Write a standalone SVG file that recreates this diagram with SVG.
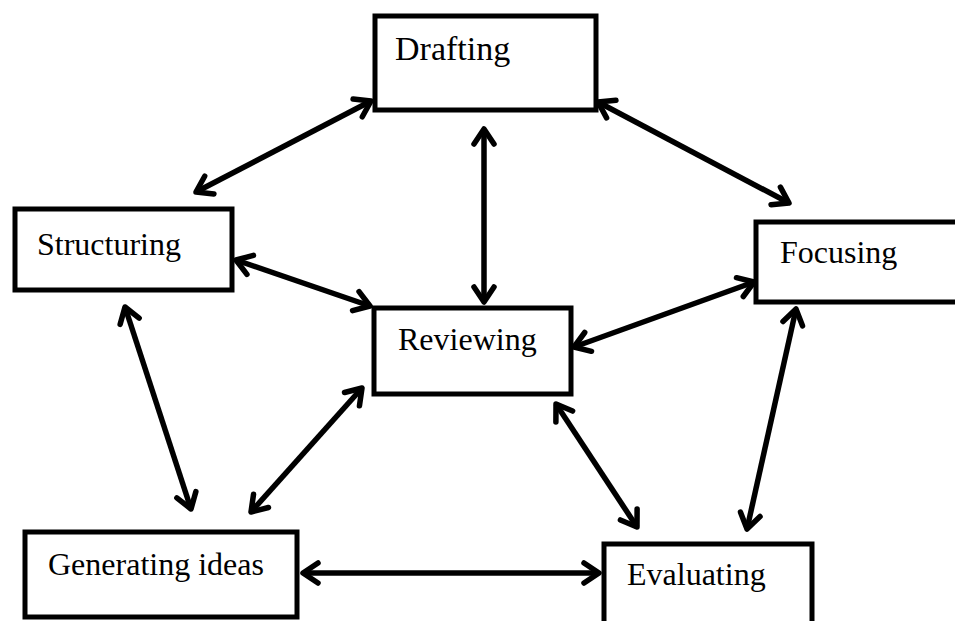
<svg xmlns="http://www.w3.org/2000/svg" width="955" height="621" viewBox="0 0 955 621">
<defs>
<style>
.box{fill:#fff;stroke:#000;stroke-width:5}
.lbl{font-family:"Liberation Serif","Times New Roman",serif;font-size:32px;fill:#000}
.con line{stroke:#000;stroke-width:5.5;fill:none;marker-start:url(#ah);marker-end:url(#ah)}
</style>
<marker id="ah" markerUnits="userSpaceOnUse" viewBox="-20 -14 24 28" refX="0" refY="0" markerWidth="24" markerHeight="28" orient="auto-start-reverse">
<path d="M-15,-10 L0,0 L-15,10" fill="none" stroke="#000" stroke-width="5.5" stroke-linecap="round" stroke-linejoin="round"/>
</marker>
</defs>
<rect width="955" height="621" fill="#fff"/>
<g id="drafting"><rect class="box" x="375" y="16" width="221" height="94"/><text class="lbl" x="395" y="60" style="font-size:34px">Drafting</text></g>
<g id="structuring"><rect class="box" x="15" y="209" width="217" height="81"/><text class="lbl" x="37" y="255">Structuring</text></g>
<g id="focusing"><rect class="box" x="756" y="222" width="210" height="80"/><text class="lbl" x="780" y="263">Focusing</text></g>
<g id="reviewing"><rect class="box" x="374" y="308" width="197" height="86"/><text class="lbl" x="398" y="350">Reviewing</text></g>
<g id="generating"><rect class="box" x="25" y="532" width="272" height="85"/><text class="lbl" x="48" y="575">Generating ideas</text></g>
<g id="evaluating"><rect class="box" x="604" y="544" width="208" height="90"/><text class="lbl" x="627" y="585">Evaluating</text></g>
<g id="connectors" class="con">
<line x1="371" y1="101" x2="196" y2="192"/>
<line x1="598" y1="102" x2="789" y2="203"/>
<line x1="484" y1="129" x2="484" y2="302"/>
<line x1="236" y1="260" x2="370" y2="306"/>
<line x1="125" y1="307" x2="191" y2="509"/>
<line x1="362" y1="388" x2="251" y2="512"/>
<line x1="754" y1="282" x2="574" y2="347"/>
<line x1="556" y1="404" x2="637" y2="527"/>
<line x1="796" y1="309" x2="747" y2="529"/>
<line x1="303" y1="573" x2="599" y2="573"/>
</g>
</svg>
